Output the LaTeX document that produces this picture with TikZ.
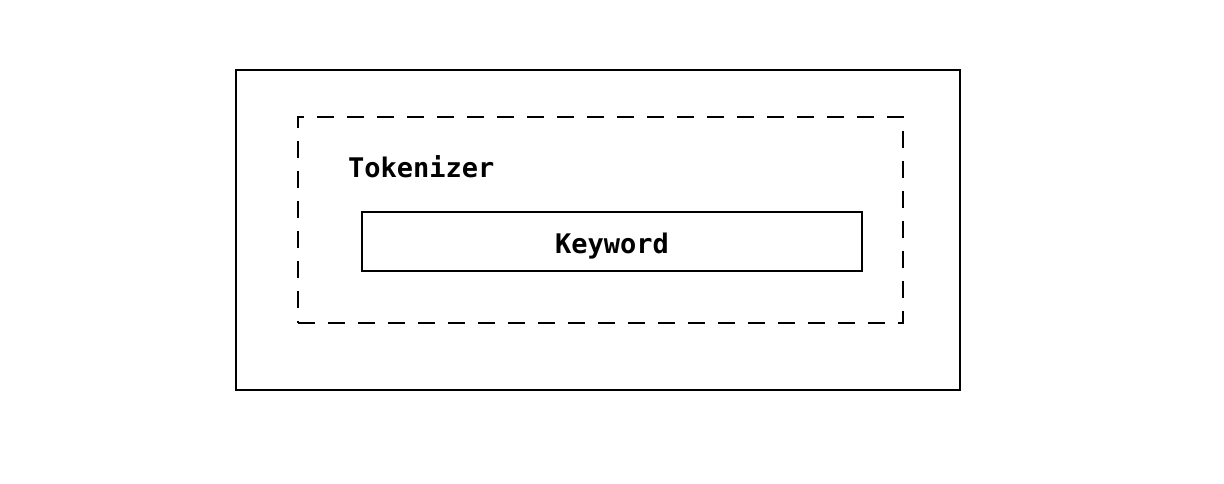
\documentclass[tikz,border=0pt]{standalone}
\usepackage{fontspec}
\setmonofont{DejaVu Sans Mono}
\tikzset{
  sketchbox/.style={draw, line width=1.8pt, rectangle, inner sep=0pt},
  dashbox/.style={draw, line width=1.8pt, rectangle, inner sep=0pt,
    dash pattern=on 17pt off 13pt},
  label/.style={font=\ttfamily\bfseries\fontsize{27}{30}\selectfont, inner sep=0pt}
}
\begin{document}
\begin{tikzpicture}[x=1pt,y=-1pt]
  \useasboundingbox (0,0) rectangle (1224,484);
  \node[sketchbox, minimum width=724pt, minimum height=320pt] (outer) at (598,230) {};
  \node[dashbox, minimum width=605pt, minimum height=206pt] (tokenizer) at (600.5,220) {};
  \node[label, anchor=base west] (tokname) at (348,178) {Tokenizer};
  \node[sketchbox, label, minimum width=500pt, minimum height=59pt,
    text height=23pt, text depth=0pt] (keyword) at (612,241.5) {Keyword};
\end{tikzpicture}
\end{document}
